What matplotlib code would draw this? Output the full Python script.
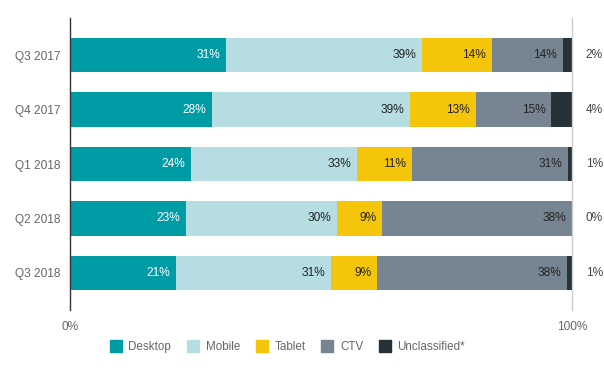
import matplotlib
matplotlib.use("Agg")
import matplotlib.pyplot as plt
from matplotlib.lines import Line2D
import numpy as np

plt.rcParams['font.family'] = ['Liberation Sans', 'DejaVu Sans']

categories = ["Q3 2017", "Q4 2017", "Q1 2018", "Q2 2018", "Q3 2018"]
series_names = ["Desktop", "Mobile", "Tablet", "CTV", "Unclassified*"]
desktop = [31.1, 28.3, 24.1, 23.1, 21.1]
mobile = [39.0, 39.4, 33.1, 30.1, 30.9]
tablet = [14.0, 13.1, 11.0, 9.0, 9.2]
ctv = [14.1, 15.1, 31.1, 37.8, 37.9]
unclassified = [1.8, 4.1, 0.7, 0.0, 0.9]

colors = ["#009ca6", "#b5dde2", "#f4c50a", "#778592", "#263138"]
text_colors = ["white", "#222222", "#222222", "#222222", "#444444"]

fig = plt.figure(figsize=(6.04, 3.71), dpi=100)
ax = fig.add_axes([70/604, 1-310/371, 502/604, 292/371])

series = [desktop, mobile, tablet, ctv, unclassified]
y = np.arange(len(categories))
left = np.zeros(len(categories))
for i, (vals, c) in enumerate(zip(series, colors)):
    vals = np.array(vals)
    ax.barh(y, vals, left=left, height=0.63, color=c, label=series_names[i])
    for j, v in enumerate(vals):
        if i < 4:
            ax.text(left[j] + v - 1.2, y[j], f"{round(v)}%", ha="right", va="center",
                    color=text_colors[i], fontsize=8.6)
        else:
            ax.text(102.7, y[j], f"{round(v)}%", ha="left", va="center",
                    color="#444444", fontsize=8.6)
    left += vals

ax.set_xlim(0, 100)
ax.set_ylim(len(categories) - 0.32, -0.68)
ax.set_yticks(y)
ax.set_yticklabels(categories)
ax.set_xticks([0, 100])
ax.set_xticklabels(["0%", "100%"])
ax.tick_params(axis="both", length=0, colors="#666666", labelsize=8.6)
ax.tick_params(axis="y", pad=7)
ax.tick_params(axis="x", pad=8)
for s in ["top", "bottom"]:
    ax.spines[s].set_visible(False)
ax.spines["left"].set_color("#333333")
ax.spines["left"].set_linewidth(1)
ax.spines["right"].set_color("#cccccc")
ax.spines["right"].set_linewidth(1)

handles = [Line2D([0], [0], marker="s", color="none", markerfacecolor=c,
                  markeredgecolor=c, markersize=8) for c in colors]
leg = fig.legend(handles, series_names, loc="center", bbox_to_anchor=(287.5/604, 1-347/371),
                 ncol=5, frameon=False, fontsize=8.4, handletextpad=0.6,
                 columnspacing=1.35, handlelength=1.0)
for t in leg.get_texts():
    t.set_color("#666666")

fig.savefig("out.png", dpi=100)
